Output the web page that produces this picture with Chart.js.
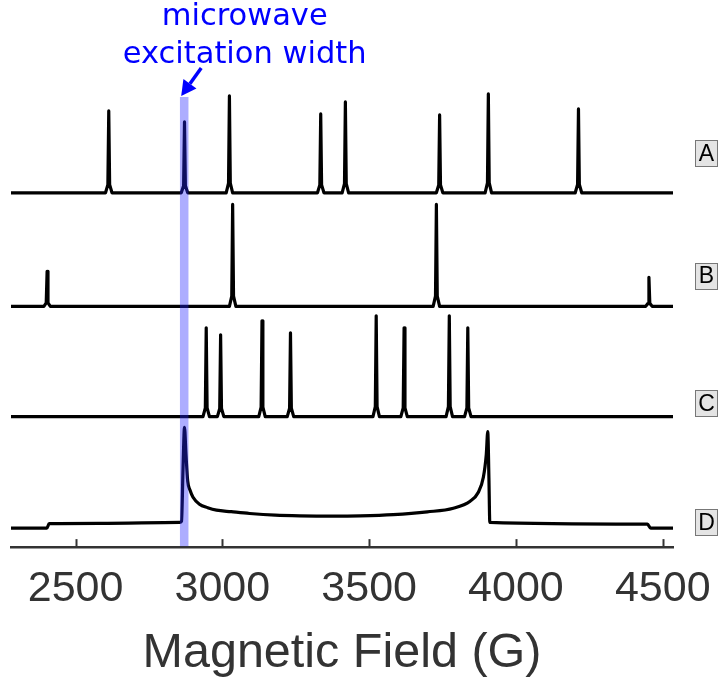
<!DOCTYPE html>
<html><head><meta charset="utf-8">
<script src="https://cdn.jsdelivr.net/npm/chart.js@4"></script>
<style>html,body{margin:0;padding:0;background:#fff}#wrap{width:720px;height:683px;position:relative}</style>
</head><body><div id="wrap"><canvas id="c" width="720" height="683"></canvas></div>
<script>
// ---------------- data ----------------
const fieldMin = 2280, fieldMax = 4535;
const tickValues = [2500, 3000, 3500, 4000, 4500];
const axisTitle = 'Magnetic Field (G)';
const annotationLines = ['microwave', 'excitation width'];
const excitationCenter = 2870, excitationWidth = 29;
const spectrumNames = ['A', 'B', 'C', 'D'];

const peaksAField  = [2613, 2871, 3024, 3335, 3419, 3740, 3906, 4213];
const peaksAHeight = [82, 71, 97, 79, 91, 78, 99, 84];
const peaksBField  = [2403, 3035, 3729, 4453];
const peaksBHeight = [35, 102, 102, 29];
const peaksCField  = [2945, 2994, 3135, 3232, 3524, 3619, 3773, 3836];
const peaksCHeight = [89, 82, 96, 84, 101, 89, 101, 89];

const powderField = [2280, 2402, 2410, 2581, 2854, 2861, 2866, 2871, 2876, 2882, 2890, 2900, 2922, 2950, 2980, 3030, 3093, 3180, 3264, 3380, 3469, 3582, 3698, 3787, 3844, 3872, 3889, 3899, 3904, 3908, 3911, 4448, 4459, 4535];
const powderIntensity = [0, 0, 4.5, 4.8, 5.7, 7, 60, 101, 74, 47, 38, 31, 24, 20.5, 18, 16.5, 14.7, 13, 12.3, 12, 12.3, 13.5, 16.3, 20, 27, 36, 51, 74, 96.7, 50, 5.7, 4, 0, 0];

// ---------------- layout / style ----------------
const baselines = [355, 241.3, 130.7, 19];      // vertical offset of each trace (y units)
const labelLevels = [394.5, 272, 144, 25];      // y units of the A-D tags
const yMax = 468;
const bandTop = 451;
const peakProfileOffset = [-11, -3, 0, 3, 11];
const peakProfileFrac = [0, 0.1, 1, 0.1, 0];

function buildPeaks(fields, heights, base) {
  const pts = [{x: fieldMin, y: base}];
  fields.forEach((f, i) => {
    peakProfileOffset.forEach((o, j) => pts.push({x: f + o, y: base + heights[i] * peakProfileFrac[j]}));
  });
  pts.push({x: fieldMax, y: base});
  return pts;
}

const datasets = [
  {label: 'A', data: buildPeaks(peaksAField, peaksAHeight, baselines[0])},
  {label: 'B', data: buildPeaks(peaksBField, peaksBHeight, baselines[1])},
  {label: 'C', data: buildPeaks(peaksCField, peaksCHeight, baselines[2])},
  {label: 'D', data: powderField.map((f, i) => ({x: f, y: baselines[3] + powderIntensity[i]})), cubicInterpolationMode: 'monotone'}
];

const overlay = {
  id: 'overlay',
  afterDatasetsDraw(chart) {
    const {ctx, scales: {x, y}} = chart;
    const x0 = x.getPixelForValue(excitationCenter - excitationWidth / 2);
    const x1 = x.getPixelForValue(excitationCenter + excitationWidth / 2);
    const yt = y.getPixelForValue(bandTop), yb = y.getPixelForValue(0) - 1;
    ctx.save();
    ctx.fillStyle = 'rgba(40,40,255,0.38)';
    ctx.fillRect(x0, yt, x1 - x0, yb - yt);
    ctx.restore();
  },
  afterDraw(chart) {
    const {ctx, scales: {x, y}} = chart;
    ctx.save();
    // inward ticks
    ctx.strokeStyle = '#333'; ctx.lineWidth = 2;
    const yAxis = chart.chartArea.bottom;
    x.ticks.forEach(t => {
      const px = Math.round(x.getPixelForValue(t.value)) + 0.5;
      ctx.beginPath(); ctx.moveTo(px, yAxis); ctx.lineTo(px, yAxis - 8); ctx.stroke();
    });
    // A-D tags
    ctx.font = '23px "Liberation Sans", Arial, sans-serif';
    ctx.textAlign = 'center'; ctx.textBaseline = 'middle';
    spectrumNames.forEach((n, i) => {
      const cy = y.getPixelForValue(labelLevels[i]);
      const bx = 695.5, bw = 22, bh = 26;
      const by = Math.round(cy - bh / 2) + 0.5;
      ctx.fillStyle = '#e4e4e4';
      ctx.fillRect(bx, by, bw, bh);
      ctx.strokeStyle = '#777'; ctx.lineWidth = 1;
      ctx.strokeRect(bx, by, bw, bh);
      ctx.fillStyle = '#000';
      ctx.fillText(n, bx + bw / 2, cy + 1);
    });
    // annotation
    ctx.fillStyle = '#0000ff';
    ctx.font = '30.5px "DejaVu Sans", sans-serif';
    ctx.textAlign = 'center'; ctx.textBaseline = 'alphabetic';
    const tx = x.getPixelForValue(3076);
    ctx.fillText(annotationLines[0], tx, 25);
    ctx.fillText(annotationLines[1], tx, 63);
    // arrow
    const tipX = x.getPixelForValue(excitationCenter) - 3, tipY = y.getPixelForValue(bandTop) - 1;
    const tailX = tipX + 20, tailY = tipY - 28;
    const dx = tipX - tailX, dy = tipY - tailY, L = Math.hypot(dx, dy);
    const ux = dx / L, uy = dy / L;
    const hl = 15, hw = 8;
    const bx2 = tipX - ux * hl, by2 = tipY - uy * hl;
    ctx.strokeStyle = '#0000ff'; ctx.lineWidth = 3.5;
    ctx.beginPath(); ctx.moveTo(tailX, tailY); ctx.lineTo(bx2, by2); ctx.stroke();
    ctx.beginPath();
    ctx.moveTo(tipX, tipY);
    ctx.lineTo(bx2 - uy * hw, by2 + ux * hw);
    ctx.lineTo(bx2 + uy * hw, by2 - ux * hw);
    ctx.closePath(); ctx.fill();
    ctx.restore();
  }
};

new Chart(document.getElementById('c'), {
  type: 'line',
  data: {datasets},
  options: {
    responsive: false,
    animation: false,
    layout: {padding: {left: 11, right: 47, top: 80, bottom: 10}},
    plugins: {legend: {display: false}, tooltip: {enabled: false}},
    elements: {
      point: {radius: 0},
      line: {borderWidth: 3.2, borderColor: '#000', tension: 0, borderJoinStyle: 'round', borderCapStyle: 'round'}
    },
    scales: {
      x: {
        type: 'linear', min: fieldMin, max: fieldMax,
        afterBuildTicks: s => { s.ticks = tickValues.map(v => ({value: v})); },
        afterFit: s => { s.paddingLeft = 0; s.paddingRight = 0; },
        grid: {display: false, drawTicks: false},
        border: {display: true, color: '#333', width: 2.5},
        ticks: {
          padding: 21, color: '#333', maxRotation: 0, autoSkip: false,
          font: {family: '"Liberation Sans Narrow", "Liberation Sans", sans-serif', size: 43, lineHeight: 1},
          callback: v => String(v)
        },
        title: {
          display: true, text: axisTitle, color: '#333',
          font: {family: '"Liberation Sans", Arial, sans-serif', size: 48.5, lineHeight: 0.75},
          padding: {top: 3, bottom: 1.5}
        }
      },
      y: {display: false, min: 0, max: yMax}
    }
  },
  plugins: [overlay]
});
</script>
</body></html>
